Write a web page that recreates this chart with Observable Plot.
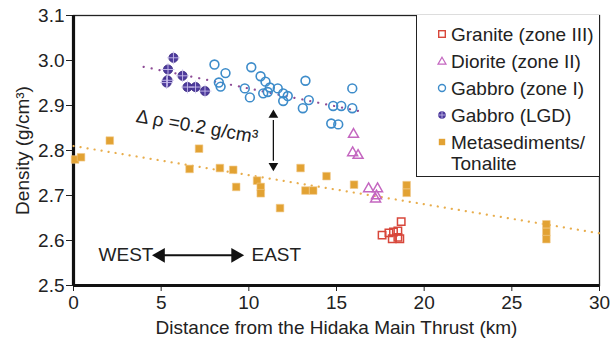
<!DOCTYPE html>
<html>
<head>
<meta charset="utf-8">
<script src="https://cdn.jsdelivr.net/npm/d3@7"></script>
<script src="https://cdn.jsdelivr.net/npm/@observablehq/plot@0.6"></script>
<style>
  html, body { margin: 0; padding: 0; background: #fff; }
  #wrap { position: relative; width: 611px; height: 343px; font-family: "Liberation Sans", Arial, Helvetica, sans-serif; }
  #legend { position: absolute; left: 416px; top: 15px; width: 183px; height: 162px; border-left: 1.3px solid #222; border-bottom: 1.3px solid #222; box-sizing: border-box; background: #fff; }
  .row { position: absolute; left: 0; font-size: 19px; color: #222; line-height: 21px; white-space: nowrap; }
  .row svg { position: absolute; left: 19px; }
  .row span { position: absolute; left: 34px; }
</style>
</head>
<body>
<div id="wrap"></div>
<script>
// ---- data (distance km, density g/cm3) ----
const graniteX = [18.69, 17.60, 17.99, 18.25, 18.50, 18.50, 18.18, 18.61];
const graniteY = [2.642, 2.612, 2.617, 2.619, 2.621, 2.607, 2.604, 2.604];

const dioriteX = [15.97, 15.92, 16.23, 16.83, 17.34, 17.28, 17.23];
const dioriteY = [2.836, 2.795, 2.789, 2.715, 2.715, 2.699, 2.692];

const gabbroX = [8.04, 8.67, 8.29, 8.39, 10.14, 10.67, 9.77, 10.06, 10.95, 11.20, 10.82, 11.08, 11.65, 11.96, 12.22, 11.96, 13.23, 13.42, 13.08, 14.81, 15.27, 15.90, 15.90, 14.70, 15.10];
const gabbroY = [2.991, 2.972, 2.951, 2.942, 2.985, 2.965, 2.938, 2.918, 2.953, 2.940, 2.927, 2.930, 2.938, 2.927, 2.921, 2.910, 2.955, 2.912, 2.894, 2.899, 2.899, 2.894, 2.938, 2.860, 2.858];

const lgdX = [5.70, 5.39, 6.22, 5.36, 5.31, 6.50, 6.96, 7.50];
const lgdY = [3.006, 2.980, 2.966, 2.956, 2.951, 2.941, 2.941, 2.932];

const metaX = [0.09, 0.43, 2.07, 7.16, 6.62, 8.35, 9.11, 9.28, 10.47, 10.68, 10.68, 11.78, 12.95, 13.23, 13.67, 14.43, 16.00, 19.00, 19.00, 26.97, 26.97, 26.97];
const metaY = [2.780, 2.785, 2.822, 2.804, 2.759, 2.761, 2.757, 2.719, 2.733, 2.719, 2.705, 2.672, 2.761, 2.711, 2.711, 2.743, 2.724, 2.723, 2.706, 2.636, 2.619, 2.603];

// trend lines (end points)
const trendGabbroX = [4.0, 16.6];
const trendGabbroY = [2.986, 2.885];
const trendMetaX = [0, 30];
const trendMetaY = [2.810, 2.616];

// annotations
const deltaArrowX = 11.4;
const deltaArrowY = [2.755, 2.89];
const deltaLabel = "Δ ρ =0.2 g/cm³";
const deltaLabelPos = [7.05, 2.853];
const dirArrowY = 2.567;
const dirArrowX = [4.68, 9.53];
const westLabel = "WEST", eastLabel = "EAST";

const xTicks = [0, 5, 10, 15, 20, 25, 30];
const yTicks = [2.5, 2.6, 2.7, 2.8, 2.9, 3.0, 3.1];

const legendItems = ["Granite (zone III)", "Diorite (zone II)", "Gabbro (zone I)", "Gabbro (LGD)", "Metasediments/", "Tonalite"];

const C = {granite: "#d8473b", diorite: "#c466c0", gabbro: "#3d8cca", lgd: "#4d3a9c", meta: "#e2a233", trendG: "#8e4c96", trendM: "#e8ad4c"};

const zip = (xs, ys) => xs.map((x, i) => ({x, y: ys[i]}));
const granite = zip(graniteX, graniteY);
const diorite = zip(dioriteX, dioriteY);
const gabbro = zip(gabbroX, gabbroY);
const lgd = zip(lgdX, lgdY);
const meta = zip(metaX, metaY);

const pxY = 270 / 0.6; // pixels per density unit (for arrow head placement)
const headOff = 5 / pxY;
const pxX = 526 / 30;

const chart = Plot.plot({
  width: 611,
  height: 343,
  marginLeft: 73,
  marginRight: 12,
  marginTop: 15,
  marginBottom: 58,
  style: {fontFamily: '"Liberation Sans", Arial, Helvetica, sans-serif', fontSize: "19px", color: "#222", background: "#fff"},
  x: {domain: [0, 30], ticks: xTicks, tickSize: 6, tickPadding: 4, label: "Distance from the Hidaka Main Thrust (km)", labelAnchor: "center", labelOffset: 48, labelArrow: "none"},
  y: {domain: [2.5, 3.1], ticks: yTicks, tickFormat: d3.format(".1f"), tickSize: 7, tickPadding: 2, label: "Density (g/cm³)", labelAnchor: "center", labelOffset: 58, labelArrow: "none"},
  marks: [
    Plot.frame({stroke: "#222", strokeWidth: 1.3}),
    Plot.ruleX([0], {stroke: "#111", strokeWidth: 3.2}),
    Plot.ruleY([2.5], {stroke: "#111", strokeWidth: 3.2}),
    // trend lines
    Plot.line(zip(trendMetaX, trendMetaY), {x: "x", y: "y", stroke: C.trendM, strokeWidth: 2.2, strokeDasharray: "0.1,7", strokeLinecap: "round"}),
    Plot.line(zip(trendGabbroX, trendGabbroY), {x: "x", y: "y", stroke: C.trendG, strokeWidth: 2.2, strokeDasharray: "0.1,8", strokeLinecap: "round"}),
    // points
    Plot.dot(meta, {x: "x", y: "y", symbol: "square", r: 4.3, fill: C.meta, stroke: "#f2c98a", strokeWidth: 0.6}),
    Plot.dot(granite, {x: "x", y: "y", symbol: "square", r: 4.2, fill: "none", stroke: C.granite, strokeWidth: 1.5}),
    Plot.dot(diorite, {x: "x", y: "y", symbol: "triangle", r: 3.7, fill: "none", stroke: C.diorite, strokeWidth: 1.5}),
    Plot.dot(gabbro, {x: "x", y: "y", symbol: "circle", r: 4.4, fill: "none", stroke: C.gabbro, strokeWidth: 1.6}),
    Plot.dot(lgd, {x: "x", y: "y", symbol: "circle", r: 4.6, fill: C.lgd, stroke: "#3a2a80", strokeWidth: 0.8}),
    Plot.dot(lgd, {x: "x", y: "y", symbol: "plus", r: 4.2, fill: "none", stroke: "#c9c0ee", strokeWidth: 0.9}),
    // delta rho annotation
    Plot.text([deltaLabel], {x: deltaLabelPos[0], y: deltaLabelPos[1], text: d => d, rotate: 10, fontSize: 19, fill: "#222"}),
    Plot.link([0], {x1: deltaArrowX, x2: deltaArrowX, y1: deltaArrowY[0] + 2 * headOff, y2: deltaArrowY[1] - 2 * headOff, stroke: "#111", strokeWidth: 1.3}),
    Plot.dot([deltaArrowY[1] - headOff], {x: deltaArrowX, y: d => d, symbol: "triangle", r: 3.6, fill: "#111", stroke: "none"}),
    Plot.dot([deltaArrowY[0] + headOff], {x: deltaArrowX, y: d => d, symbol: "triangle", r: 3.6, fill: "#111", stroke: "none", rotate: 180}),
    // west / east
    Plot.link([0], {x1: dirArrowX[0] + 8 / pxX, x2: dirArrowX[1] - 8 / pxX, y1: dirArrowY, y2: dirArrowY, stroke: "#111", strokeWidth: 2}),
    Plot.dot([dirArrowX[0] + 5 / pxX], {x: d => d, y: dirArrowY, symbol: "triangle", r: 5.5, fill: "#111", stroke: "none", rotate: -90}),
    Plot.dot([dirArrowX[1] - 5 / pxX], {x: d => d, y: dirArrowY, symbol: "triangle", r: 5.5, fill: "#111", stroke: "none", rotate: 90}),
    Plot.text([westLabel], {x: dirArrowX[0] - 0.12, y: dirArrowY, text: d => d, textAnchor: "end", fontSize: 19, fill: "#222"}),
    Plot.text([eastLabel], {x: dirArrowX[1] + 0.62, y: dirArrowY, text: d => d, textAnchor: "start", fontSize: 19, fill: "#222"})
  ]
});

const wrap = document.getElementById("wrap");
wrap.appendChild(chart);

// legend
const legend = document.createElement("div");
legend.id = "legend";
const symSvg = {
  0: `<svg width="12" height="12" viewBox="-6 -6 12 12"><rect x="-3.3" y="-3.3" width="6.6" height="6.6" fill="none" stroke="${C.granite}" stroke-width="1.4"/></svg>`,
  1: `<svg width="12" height="12" viewBox="-6 -6 12 12"><path d="M0,-3.8L4,3.2L-4,3.2Z" fill="none" stroke="${C.diorite}" stroke-width="1.2"/></svg>`,
  2: `<svg width="12" height="12" viewBox="-6 -6 12 12"><circle r="3.5" fill="none" stroke="${C.gabbro}" stroke-width="1.4"/></svg>`,
  3: `<svg width="12" height="12" viewBox="-6 -6 12 12"><circle r="3.8" fill="${C.lgd}"/><path d="M-3.4,0H3.4M0,-3.4V3.4" stroke="#c9c0ee" stroke-width="0.8"/></svg>`,
  4: `<svg width="12" height="12" viewBox="-6 -6 12 12"><rect x="-3.2" y="-3.2" width="6.4" height="6.4" fill="${C.meta}"/></svg>`
};
const rowCenters = [19, 46, 73, 100, 127, 148];
legendItems.forEach((label, i) => {
  const row = document.createElement("div");
  row.className = "row";
  row.style.top = (rowCenters[i] - 10.5) + "px";
  row.style.width = "183px";
  row.style.height = "21px";
  row.innerHTML = (symSvg[i] ? symSvg[i].replace("<svg ", '<svg style="top:4.5px" ') : "") + `<span>${label}</span>`;
  legend.appendChild(row);
});
wrap.appendChild(legend);
</script>
</body>
</html>
